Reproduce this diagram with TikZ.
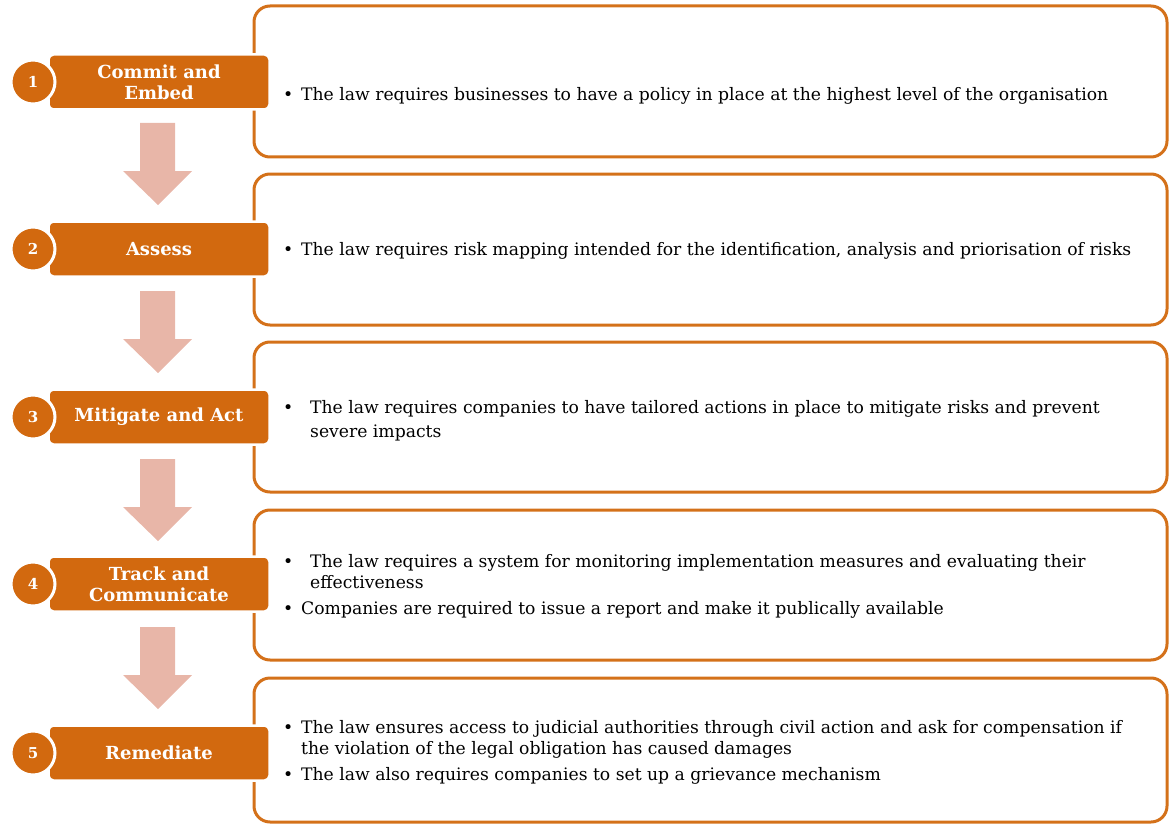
\documentclass[tikz,border=0pt]{standalone}
\usepackage{fontspec}
\setmainfont{DejaVu Serif}
\definecolor{orng}{HTML}{D2690F}
\definecolor{boxc}{HTML}{D4711A}
\definecolor{pink}{HTML}{E8B6A8}
\begin{document}
\begin{tikzpicture}[x=1pt,y=-1pt,
  framebox/.style={draw=boxc,line width=3pt,rounded corners=16pt},
  label/.style={fill=orng,draw=white,line width=2.5pt,rounded corners=5pt,minimum width=221pt,minimum height=55pt,inner sep=0pt,text=white,font=\bfseries\fontsize{18}{21}\selectfont,align=center},
  num/.style={circle,fill=orng,draw=white,line width=3pt,minimum size=44pt,inner sep=0pt,text=white,font=\bfseries\fontsize{15}{17}\selectfont},
  txt/.style={anchor=base west,inner sep=0pt,font=\fontsize{17.2}{20}\selectfont},
  downarrow/.style={fill=pink}]
\useasboundingbox (0,0) rectangle (1170,824);
% frames
\draw[framebox] (254,6) rectangle (1167,157);
\draw[framebox] (254,174) rectangle (1167,325);
\draw[framebox] (254,342) rectangle (1167,492);
\draw[framebox] (254,510) rectangle (1167,660);
\draw[framebox] (254,678) rectangle (1167,822);
% arrows
\foreach \y in {0,168,336,504}{
  \fill[downarrow] (140,123+\y) -- (175,123+\y) -- (175,171+\y) -- (192,171+\y) -- (158,205+\y) -- (123,171+\y) -- (140,171+\y) -- cycle;
}
% labels
\node[label] (l1) at (159,82) {Commit and\\Embed};
\node[label] (l2) at (159,249) {Assess};
\node[label] (l3) at (159,417) {Mitigate and Act};
\node[label] (l4) at (159,584) {Track and\\Communicate};
\node[label] (l5) at (159,753) {Remediate};
\node[num] (n1) at (33,82) {1};
\node[num] (n2) at (33,249) {2};
\node[num] (n3) at (33,417) {3};
\node[num] (n4) at (33,584) {4};
\node[num] (n5) at (33,753) {5};
% texts
\node[txt] (t1) at (283,101) {\makebox[18pt][l]{•}The law requires businesses to have a policy in place at the highest level of the organisation};
\node[txt] (t2) at (283,255) {\makebox[18pt][l]{•}The law requires risk mapping intended for the identification, analysis and priorisation of risks};
\node[txt] (t3a) at (283,413) {\makebox[27pt][l]{•}The law requires companies to have tailored actions in place to mitigate risks and prevent};
\node[txt] (t3b) at (310,437) {severe impacts};
\node[txt] (t4a) at (283,567) {\makebox[27pt][l]{•}The law requires a system for monitoring implementation measures and evaluating their};
\node[txt] (t4b) at (310,588) {effectiveness};
\node[txt] (t4c) at (283,614) {\makebox[18pt][l]{•}Companies are required to issue a report and make it publically available};
\node[txt] (t5a) at (283,733) {\makebox[18pt][l]{•}The law ensures access to judicial authorities through civil action and ask for compensation if};
\node[txt] (t5b) at (301,754) {the violation of the legal obligation has caused damages};
\node[txt] (t5c) at (283,780) {\makebox[18pt][l]{•}The law also requires companies to set up a grievance mechanism};
\end{tikzpicture}
\end{document}
